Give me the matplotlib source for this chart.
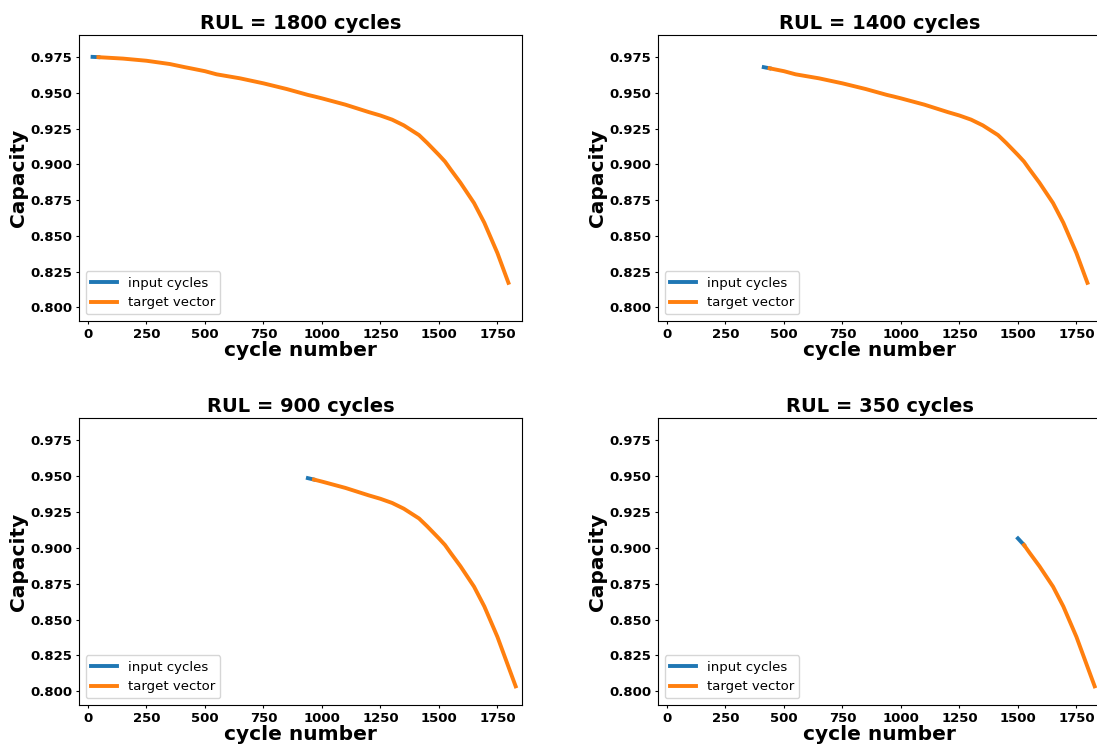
import matplotlib
matplotlib.use("Agg")
import matplotlib.pyplot as plt
import numpy as np

# Shared capacity-fade curve (cycle number, capacity)
curve_cycle = [20, 45, 150, 250, 350, 414, 439, 500, 550, 650, 750, 850, 940, 966,
               1000, 1100, 1200, 1250, 1300, 1350, 1415, 1450, 1500, 1526, 1550,
               1592, 1650, 1694, 1750, 1797, 1828]
curve_capacity = [0.9752, 0.9750, 0.9740, 0.9725, 0.9702, 0.9680, 0.9672, 0.9652,
                  0.9630, 0.9602, 0.9567, 0.9527, 0.9486, 0.9476, 0.9462, 0.9418,
                  0.9366, 0.9342, 0.9313, 0.9273, 0.9205, 0.9150, 0.9066, 0.9020,
                  0.8965, 0.8872, 0.8730, 0.8592, 0.8380, 0.8172, 0.8035]

# Per panel: title RUL, input window start/end, end of target vector
rul_values = [1800, 1400, 900, 350]
input_start = [20, 414, 940, 1500]
input_end = [45, 439, 966, 1526]
target_end = [1797, 1797, 1828, 1828]

x_ticks = [0, 250, 500, 750, 1000, 1250, 1500, 1750]
y_ticks = [0.800, 0.825, 0.850, 0.875, 0.900, 0.925, 0.950, 0.975]

W, H = 1097, 745
fig = plt.figure(figsize=(W / 100, H / 100), dpi=100)

# axes boxes in pixels: (left, top, right, bottom)
boxes = [(79, 35, 522, 321), (658, 35, 1101, 321),
         (79, 418, 522, 705), (658, 418, 1101, 705)]

cyc = np.array(curve_cycle)
cap = np.array(curve_capacity)

for i, (l, t, r, b) in enumerate(boxes):
    ax = fig.add_axes([l / W, 1 - b / H, (r - l) / W, (b - t) / H])
    m_in = (cyc >= input_start[i]) & (cyc <= input_end[i])
    m_tg = (cyc >= input_end[i]) & (cyc <= target_end[i])
    ax.plot(cyc[m_in], cap[m_in], color="#1f77b4", lw=2.8, label="input cycles")
    ax.plot(cyc[m_tg], cap[m_tg], color="#ff7f0e", lw=2.8, label="target vector")
    ax.set_xlim(-38, 1855)
    ax.set_ylim(0.7905, 0.9905)
    ax.set_xticks(x_ticks)
    ax.set_yticks(y_ticks)
    ax.set_xticklabels([str(v) for v in x_ticks], fontsize=9.5, fontweight="bold")
    ax.set_yticklabels([f"{v:.3f}" for v in y_ticks], fontsize=9.5, fontweight="bold")
    ax.tick_params(length=2.5, pad=2.5)
    ax.set_title(f"RUL = {rul_values[i]} cycles", fontsize=14, fontweight="bold", pad=4)
    ax.set_xlabel("cycle number", fontsize=14.5, fontweight="bold", labelpad=0)
    ax.set_ylabel("Capacity", fontsize=14.5, fontweight="bold", labelpad=1.5)
    ax.legend(loc="lower left", fontsize=9.5)

fig.savefig("out.png", dpi=100)
